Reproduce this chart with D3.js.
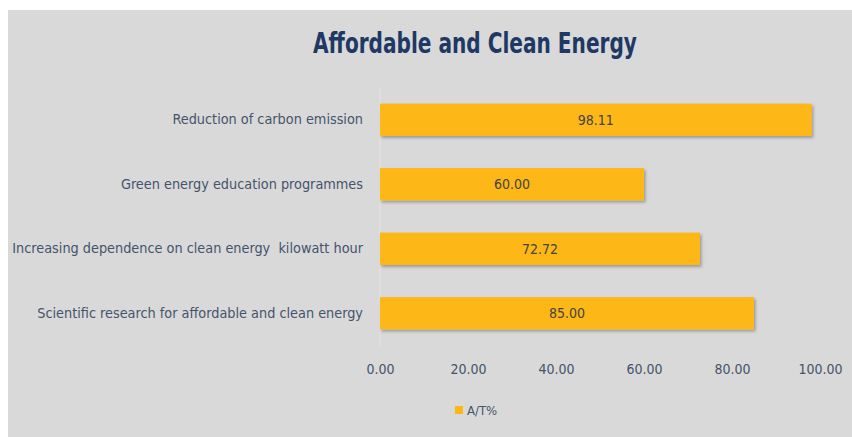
<!DOCTYPE html>
<html>
<head>
<meta charset="utf-8">
<script src="https://cdn.jsdelivr.net/npm/d3@7"></script>
<style>
  html, body { margin: 0; padding: 0; background: #ffffff; }
  svg { display: block; }
  text { font-family: "DejaVu Sans", sans-serif; font-stretch: condensed; }
</style>
</head>
<body>
<svg id="chart"></svg>
<script>
const categories = [
    "Reduction of carbon emission",
    "Green energy education programmes",
    "Increasing dependence on clean energy  kilowatt hour",
    "Scientific research for affordable and clean energy"
];
const values = [98.11, 60.00, 72.72, 85.00];
const xTicks = [0, 20, 40, 60, 80, 100];
const seriesName = "A/T%";
const title = "Affordable and Clean Energy";

const width = 852, height = 437;
const margin = { top: 87.5, right: 32, bottom: 91.5, left: 380 };
const barColor = "#FDB714";
const textColor = "#44546A";

const svg = d3.select("#chart")
    .attr("width", width)
    .attr("height", height);

const defs = svg.append("defs");
const shadow = defs.append("filter")
    .attr("id", "shadow")
    .attr("x", "-5%").attr("y", "-20%")
    .attr("width", "110%").attr("height", "150%");
shadow.append("feDropShadow")
    .attr("dx", 1.5).attr("dy", 2)
    .attr("stdDeviation", 1.5)
    .attr("flood-color", "#000")
    .attr("flood-opacity", 0.3);

// grey panel
svg.append("rect")
    .attr("x", 8).attr("y", 10)
    .attr("width", width - 8).attr("height", height - 10)
    .attr("fill", "#d9d9d9");

const xScale = d3.scaleLinear()
    .domain([0, 100])
    .range([margin.left, width - margin.right]);

const yScale = d3.scaleBand()
    .domain(categories)
    .range([margin.top, height - margin.bottom])
    .paddingInner(0.5)
    .paddingOuter(0.25);

// title: keep the tall condensed look by squeezing it horizontally
const titleG = svg.append("g");
const titleText = titleG.append("text")
    .attr("x", 0)
    .attr("y", 0)
    .attr("text-anchor", "middle")
    .attr("font-size", 28)
    .attr("font-weight", "bold")
    .attr("fill", "#203864")
    .text(title);
const tw = titleText.node().getComputedTextLength();
const sx = tw > 0 ? 324 / tw : 1;
titleG.attr("transform", `translate(475, 53) scale(${sx}, 1)`);

// vertical axis line
svg.append("line")
    .attr("x1", xScale(0)).attr("x2", xScale(0))
    .attr("y1", margin.top).attr("y2", height - margin.bottom)
    .attr("stroke", "#e4e4e4")
    .attr("stroke-width", 1);

svg.append("g")
    .selectAll("rect")
    .data(values)
    .join("rect")
    .attr("x", xScale(0))
    .attr("y", (d, i) => yScale(categories[i]))
    .attr("width", d => xScale(d) - xScale(0))
    .attr("height", yScale.bandwidth())
    .attr("fill", barColor)
    .attr("filter", "url(#shadow)");

svg.append("g")
    .selectAll("text")
    .data(values)
    .join("text")
    .attr("x", d => (xScale(0) + xScale(d)) / 2)
    .attr("y", (d, i) => yScale(categories[i]) + yScale.bandwidth() / 2)
    .attr("dy", "0.35em")
    .attr("text-anchor", "middle")
    .attr("font-size", 14)
    .attr("fill", "#434343")
    .text(d => d.toFixed(2));

const yAxis = svg.append("g")
    .attr("transform", `translate(${xScale(0) - 17}, 0)`)
    .call(d3.axisLeft(yScale).tickSize(0).tickPadding(0));
yAxis.select(".domain").remove();
yAxis.selectAll("text")
    .attr("font-size", 14)
    .attr("fill", textColor)
    .style("white-space", "pre")
    .attr("font-family", null);

// scale category labels so the longest one spans ~351px like the source
let longest = 0;
yAxis.selectAll("text").each(function() { longest = Math.max(longest, this.getComputedTextLength()); });
if (longest > 0) yAxis.selectAll("text").attr("font-size", 14 * 351 / longest);

const xAxis = svg.append("g")
    .attr("transform", `translate(0, ${height - margin.bottom + 19})`)
    .call(d3.axisBottom(xScale).tickValues(xTicks).tickFormat(d3.format(".2f")).tickSize(0).tickPadding(0));
xAxis.select(".domain").remove();
xAxis.selectAll("text")
    .attr("font-size", 14)
    .attr("fill", textColor)
    .attr("font-family", null);

// legend
const legend = svg.append("g").attr("transform", "translate(455, 406)");
legend.append("rect")
    .attr("width", 8).attr("height", 8)
    .attr("fill", barColor);
legend.append("text")
    .attr("x", 12).attr("y", 4)
    .attr("dy", "0.35em")
    .attr("font-size", 13)
    .attr("fill", textColor)
    .text(seriesName);
</script>
</body>
</html>
